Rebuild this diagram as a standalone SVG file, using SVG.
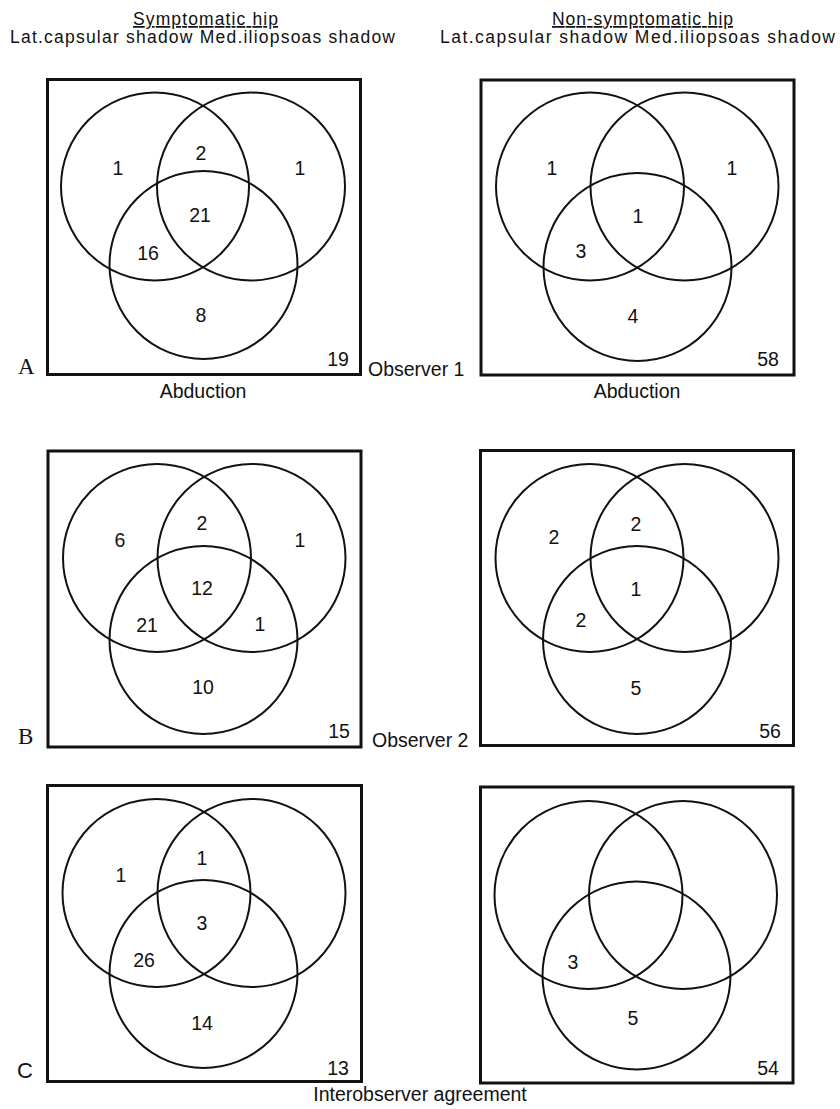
<svg xmlns="http://www.w3.org/2000/svg" width="840" height="1109" viewBox="0 0 840 1109">
<style>
  .box{fill:none;stroke:#111;stroke-width:3}
  .c{fill:none;stroke:#111;stroke-width:2}
  text{font-family:"Liberation Sans",Arial,sans-serif;font-size:19.5px;fill:#111}
  .n{text-anchor:middle}
  .mid{text-anchor:middle}
  .hd{font-size:17.5px}
  .lbl{font-family:"Liberation Serif","Times New Roman",serif;font-size:23px}
  .ul{text-decoration:underline}
</style>
<rect width="840" height="1109" fill="#fff"/>

<g id="headers">
  <text class="hd ul" x="133" y="25" textLength="145" lengthAdjust="spacing">Symptomatic hip</text>
  <text class="hd ul" x="552" y="25" textLength="181" lengthAdjust="spacing">Non-symptomatic hip</text>
  <text class="hd" x="10" y="43" textLength="385" lengthAdjust="spacing">Lat.capsular shadow  Med.iliopsoas shadow</text>
  <text class="hd" x="440" y="43" textLength="395" lengthAdjust="spacing">Lat.capsular shadow  Med.iliopsoas shadow</text>
</g>

<g id="panel-A-left">
  <rect class="box" x="47.5" y="79.5" width="313" height="295"/>
  <circle class="c" cx="155" cy="186.5" r="94"/>
  <circle class="c" cx="251" cy="186.5" r="94"/>
  <circle class="c" cx="203.5" cy="265" r="94"/>
  <text class="n" x="118" y="175">1</text>
  <text class="n" x="201" y="160">2</text>
  <text class="n" x="300" y="175">1</text>
  <text class="n" x="200" y="222">21</text>
  <text class="n" x="148" y="260">16</text>
  <text class="n" x="201" y="322">8</text>
  <text class="n" x="338" y="366">19</text>
  <text class="lbl" x="18" y="374">A</text>
</g>

<g id="panel-A-right">
  <rect class="box" x="481" y="80" width="313" height="295"/>
  <circle class="c" cx="590" cy="186.5" r="94"/>
  <circle class="c" cx="684.5" cy="186.5" r="94"/>
  <circle class="c" cx="637.5" cy="267" r="94"/>
  <text class="n" x="552" y="175">1</text>
  <text class="n" x="732" y="175">1</text>
  <text class="n" x="638" y="223">1</text>
  <text class="n" x="581" y="258">3</text>
  <text class="n" x="633" y="323">4</text>
  <text class="n" x="768" y="366">58</text>
</g>

<g id="row-A-labels">
  <text x="368" y="376">Observer 1</text>
  <text class="mid" x="203" y="398">Abduction</text>
  <text class="mid" x="637" y="398">Abduction</text>
</g>

<g id="panel-B-left">
  <rect class="box" x="48" y="451" width="313" height="296"/>
  <circle class="c" cx="157" cy="558" r="94"/>
  <circle class="c" cx="251.5" cy="558" r="94"/>
  <circle class="c" cx="203.5" cy="640" r="94"/>
  <text class="n" x="120" y="547">6</text>
  <text class="n" x="202" y="530">2</text>
  <text class="n" x="300" y="547">1</text>
  <text class="n" x="202" y="595">12</text>
  <text class="n" x="147" y="632">21</text>
  <text class="n" x="260" y="631">1</text>
  <text class="n" x="203" y="694">10</text>
  <text class="n" x="339" y="738">15</text>
  <text class="lbl" x="18" y="744">B</text>
</g>

<g id="panel-B-right">
  <rect class="box" x="480.5" y="450.5" width="313" height="295"/>
  <circle class="c" cx="589.5" cy="558" r="94"/>
  <circle class="c" cx="684.5" cy="558" r="94"/>
  <circle class="c" cx="637" cy="640" r="94"/>
  <text class="n" x="554" y="544">2</text>
  <text class="n" x="636" y="531">2</text>
  <text class="n" x="636" y="596">1</text>
  <text class="n" x="581" y="627">2</text>
  <text class="n" x="636" y="695">5</text>
  <text class="n" x="770" y="738">56</text>
</g>

<g id="row-B-labels">
  <text x="372" y="747">Observer 2</text>
</g>

<g id="panel-C-left">
  <rect class="box" x="47.5" y="785.5" width="314" height="296"/>
  <circle class="c" cx="156.5" cy="893" r="94"/>
  <circle class="c" cx="251.5" cy="893" r="94"/>
  <circle class="c" cx="203.5" cy="974" r="94"/>
  <text class="n" x="121" y="882">1</text>
  <text class="n" x="202" y="865">1</text>
  <text class="n" x="202" y="930">3</text>
  <text class="n" x="144" y="967">26</text>
  <text class="n" x="202" y="1030">14</text>
  <text class="n" x="338" y="1075">13</text>
  <text x="17" y="1078" style="font-size:22px">C</text>
</g>

<g id="panel-C-right">
  <rect class="box" x="480.5" y="787" width="312.5" height="296"/>
  <circle class="c" cx="588.5" cy="895" r="94"/>
  <circle class="c" cx="683" cy="895" r="94"/>
  <circle class="c" cx="636.5" cy="975.5" r="94"/>
  <text class="n" x="573" y="969">3</text>
  <text class="n" x="633" y="1025">5</text>
  <text class="n" x="768" y="1075">54</text>
</g>

<g id="row-C-labels">
  <text class="mid" x="420" y="1101">Interobserver agreement</text>
</g>

<g id="connectors"></g>
</svg>
